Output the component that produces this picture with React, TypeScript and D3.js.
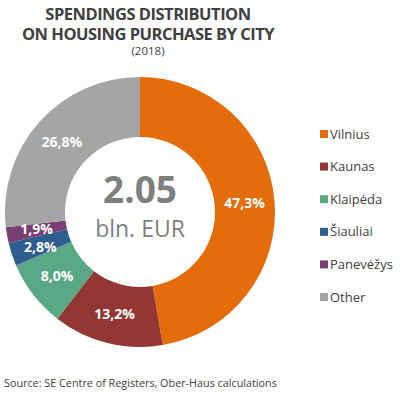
import React from "react";
import * as d3 from "d3";

const cities = ["Vilnius", "Kaunas", "Klaipėda", "Šiauliai", "Panevėžys", "Other"];
const shares = [47.3, 13.2, 8.0, 2.8, 1.9, 26.8];
const shareLabels = ["47,3%", "13,2%", "8,0%", "2,8%", "1,9%", "26,8%"];
const colors = ["#E46C0A", "#933634", "#58A886", "#2E5D8F", "#7A3E72", "#A5A5A5"];

const W = 400;
const H = 399;
const cx = 140;
const cy = 212;
const outerR = 135;
const innerR = 75;
const font = "'Open Sans', 'Noto Sans', sans-serif";

export default function App() {
  const pie = d3.pie<number>().sort(null).value((d) => d)(shares);
  const arc = d3.arc<d3.PieArcDatum<number>>().innerRadius(innerR).outerRadius(outerR);
  const labelArc = d3.arc<d3.PieArcDatum<number>>().innerRadius((innerR + outerR) / 2).outerRadius((innerR + outerR) / 2);
  const legendY = d3.scalePoint<string>().domain(cities).range([133, 296]);

  return (
    <svg width={W} height={H} style={{ position: "absolute", left: 0, top: 0, background: "#fff" }}>
      <text x={148} y={20} textAnchor="middle" fontFamily={font} fontWeight={700} fontSize={16.5} fill="#404040" letterSpacing={-0.5}>
        SPENDINGS DISTRIBUTION
      </text>
      <text x={148} y={40} textAnchor="middle" fontFamily={font} fontWeight={700} fontSize={16.5} fill="#404040" letterSpacing={-0.5}>
        ON HOUSING PURCHASE BY CITY
      </text>
      <text x={148} y={55} textAnchor="middle" fontFamily={font} fontSize={11.5} fill="#404040">
        (2018)
      </text>
      <g transform={`translate(${cx},${cy})`}>
        {pie.map((d, i) => (
          <path key={cities[i]} d={arc(d) || ""} fill={colors[i]} />
        ))}
        {pie.map((d, i) => {
          const [x, y] = labelArc.centroid(d);
          let dy = 0;
          if (i === 3) dy = 2;
          if (i === 4) dy = -1;
          return (
            <text key={"l" + i} x={x} y={y + dy} dy="0.35em" textAnchor="middle" fontFamily={font} fontWeight={700} fontSize={14} fill="#fff">
              {shareLabels[i]}
            </text>
          );
        })}
        <text x={0} y={-9} textAnchor="middle" fontFamily={font} fontWeight={700} fontSize={37} fill="#7F7F7F">
          2.05
        </text>
        <text x={0} y={25} textAnchor="middle" fontFamily={font} fontSize={23} fill="#7F7F7F">
          bln. EUR
        </text>
      </g>
      {cities.map((c, i) => {
        const y = legendY(c) as number;
        return (
          <g key={"lg" + c}>
            <rect x={320} y={y - 3} width={8} height={8} fill={colors[i]} />
            <text x={330} y={y + 1} dy="0.35em" fontFamily={font} fontSize={13} fill="#404040">
              {c}
            </text>
          </g>
        );
      })}
      <text x={4} y={387} fontFamily={font} fontSize={10.8} fill="#404040">
        Source: SE Centre of Registers, Ober-Haus calculations
      </text>
    </svg>
  );
}
